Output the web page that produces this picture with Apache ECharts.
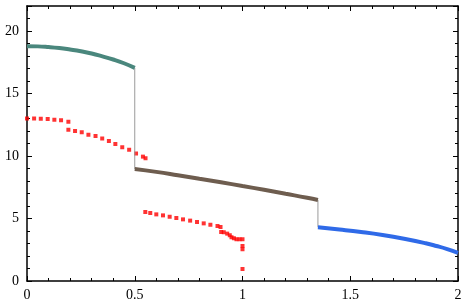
<!DOCTYPE html>
<html><head><meta charset="utf-8">
<script src="https://cdn.jsdelivr.net/npm/echarts@6/dist/echarts.min.js"></script>
<style>html,body{margin:0;padding:0;background:#fff}#c{width:466px;height:303px}</style>
</head><body><div id="c"></div>
<script>
const xTicks = [0, 0.5, 1, 1.5, 2];
const yTicks = [0, 5, 10, 15, 20];
const tealCurve = [[0,18.78],[0.05,18.77],[0.1,18.72],[0.15,18.64],[0.2,18.52],[0.25,18.38],[0.3,18.2],[0.35,17.97],[0.4,17.72],[0.45,17.42],[0.5,17.05]];
const brownCurve = [[0.5,8.96],[0.6,8.73],[0.7,8.46],[0.8,8.18],[0.9,7.9],[1.0,7.6],[1.1,7.3],[1.2,6.98],[1.3,6.66],[1.35,6.48]];
const blueCurve = [[1.35,4.3],[1.45,4.12],[1.55,3.92],[1.65,3.68],[1.75,3.38],[1.85,3.02],[1.9,2.8],[1.95,2.55],[2.0,2.25]];
const jump1 = [[0.5,17.05],[0.5,8.96]];
const jump2 = [[1.35,6.48],[1.35,4.3]];
const redUpper = [[0,13.0],[0.033,13.0],[0.064,12.98],[0.096,12.96],[0.127,12.9],[0.158,12.86],[0.192,12.74],[0.192,12.1],[0.223,12.0],[0.254,11.9],[0.285,11.7],[0.318,11.6],[0.349,11.4],[0.38,11.2],[0.41,10.96],[0.442,10.7],[0.474,10.5],[0.506,10.2],[0.538,9.95],[0.55,9.82]];
const redLower = [[0.549,5.52],[0.572,5.44],[0.6,5.33],[0.631,5.25],[0.662,5.14],[0.693,5.04],[0.724,4.93],[0.757,4.83],[0.789,4.72],[0.82,4.61],[0.851,4.5],[0.884,4.4],[0.898,4.32],[0.901,3.92],[0.913,3.9],[0.929,3.79],[0.941,3.66],[0.949,3.5],[0.96,3.42],[0.972,3.34],[0.986,3.34],[1.0,3.34],[1.0,2.8],[1.0,2.54],[1.0,0.96]];

const font = {fontFamily:'Liberation Serif', fontSize:14, color:'#000'};
const axisCommon = {
  axisLine:{show:true,onZero:false,lineStyle:{color:'#000',width:1.5}},
  axisTick:{show:true,inside:true,length:5,lineStyle:{color:'#000',width:1}},
  minorTick:{show:true,splitNumber:5,length:3,lineStyle:{color:'#000',width:1}},
  splitLine:{show:false}, minorSplitLine:{show:false}
};
const fmtX = v => xTicks.includes(v) ? String(v) : '';
const fmtY = v => yTicks.includes(v) ? String(v) : '';
const chart = echarts.init(document.getElementById('c'), null, {renderer:'canvas'});
chart.setOption({
  animation:false,
  grid:{left:27,right:8,top:6,bottom:22,containLabel:false},
  xAxis:[
    Object.assign({type:'value',min:0,max:2,interval:0.5,position:'bottom',
      axisLabel:Object.assign({margin:7,formatter:fmtX},font)},axisCommon),
    Object.assign({type:'value',min:0,max:2,interval:0.5,position:'top',
      axisLabel:{show:false}},axisCommon)
  ],
  yAxis:[
    Object.assign({type:'value',min:0,max:22,interval:5,position:'left',
      axisLabel:Object.assign({margin:8,formatter:fmtY},font)},axisCommon),
    Object.assign({type:'value',min:0,max:22,interval:5,position:'right',
      axisLabel:{show:false}},axisCommon)
  ],
  series:[
    {type:'line',data:jump1,showSymbol:false,lineStyle:{color:'#9a9a9a',width:1}},
    {type:'line',data:jump2,showSymbol:false,lineStyle:{color:'#9a9a9a',width:1}},
    {type:'line',data:tealCurve,showSymbol:false,smooth:true,lineStyle:{color:'#4a877d',width:4}},
    {type:'line',data:brownCurve,showSymbol:false,smooth:true,lineStyle:{color:'#6e5d4f',width:4}},
    {type:'line',data:blueCurve,showSymbol:false,smooth:true,lineStyle:{color:'#2f6ae8',width:4}},
    {type:'scatter',data:redUpper,symbol:'rect',symbolSize:4,itemStyle:{color:'#ff0000'}},
    {type:'scatter',data:redLower,symbol:'rect',symbolSize:4,itemStyle:{color:'#ff0000'}}
  ]
});
</script></body></html>
